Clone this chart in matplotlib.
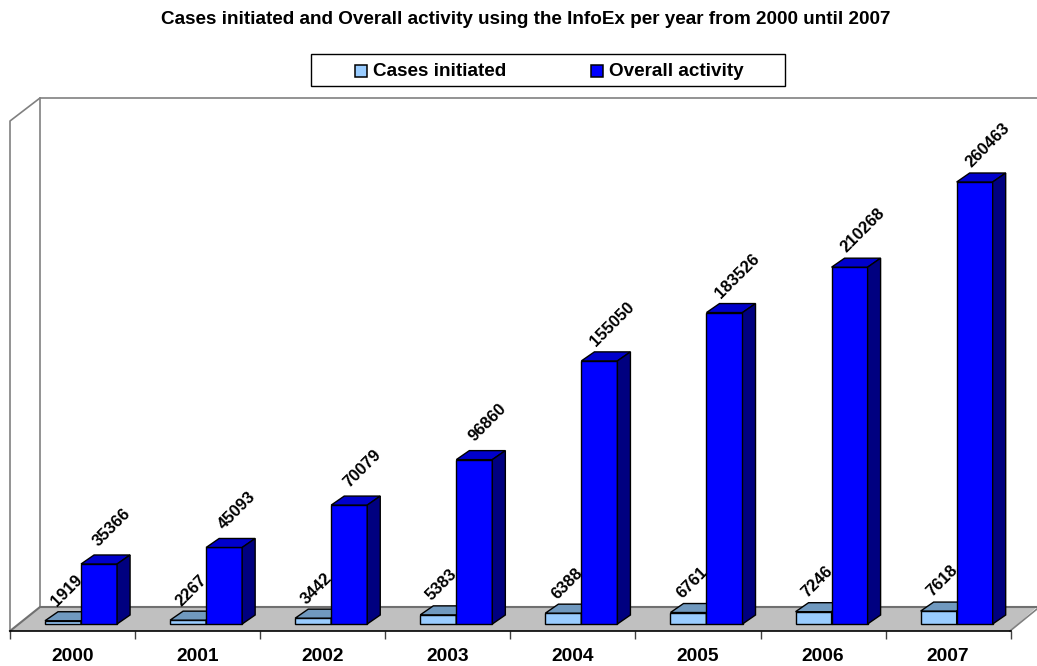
import matplotlib
matplotlib.use("Agg")
import matplotlib.pyplot as plt
from matplotlib.patches import Polygon, Rectangle

plt.rcParams['font.family'] = ['Liberation Sans', 'DejaVu Sans']
plt.rcParams['font.weight'] = 'bold'

years = ['2000', '2001', '2002', '2003', '2004', '2005', '2006', '2007']
cases = [1919, 2267, 3442, 5383, 6388, 6761, 7246, 7618]
activity = [35366, 45093, 70079, 96860, 155050, 183526, 210268, 260463]

W, H = 1037, 666
fig = plt.figure(figsize=(W / 100, H / 100), dpi=100)

#--- background in pixel coords: walls, floor, legend, title ---
bg = fig.add_axes([0, 0, 1, 1])
bg.set_xlim(0, W)
bg.set_ylim(H, 0)
bg.axis('off')

bg.add_patch(Polygon([(10, 631), (40, 607), (1037, 607), (1010, 631)], fc='#C0C0C0', ec='none'))
bg.plot([10, 10, 40, 1037], [631, 121, 98, 98], color='#808080', lw=1.2)
bg.plot([40, 40], [98, 607], color='#808080', lw=1.2)
bg.plot([10, 40, 1037], [631, 607, 607], color='#707070', lw=1.5)
bg.plot([1010, 1037], [631, 609], color='#808080', lw=1.2)

bg.text(526, 19.5, 'Cases initiated and Overall activity using the InfoEx per year from 2000 until 2007',
        ha='center', va='center', fontsize=13.6, color='black')

bg.add_patch(Rectangle((310.5, 53.5), 474, 32, fc='white', ec='black', lw=1))
bg.add_patch(Rectangle((355, 65), 12, 12, fc='#99CCFF', ec='black', lw=1.1))
bg.text(373, 71.5, 'Cases initiated', ha='left', va='center', fontsize=13.6)
bg.add_patch(Rectangle((591, 65), 12, 12, fc='#0000FF', ec='black', lw=1.1))
bg.text(609, 71.5, 'Overall activity', ha='left', va='center', fontsize=13.6)

#--- bars on real scales, bottom at the bar base line ---
ax = fig.add_axes([10 / W, (H - 624) / H, 1000.7 / W, 442 / H])
ax.patch.set_alpha(0)
ax.set_xlim(0, 8)
ax.set_ylim(0, 260463)
for s in ['top', 'left', 'right']:
    ax.spines[s].set_visible(False)
ax.spines['bottom'].set_position(('outward', 5.04))
ax.spines['bottom'].set_linewidth(1.2)
ax.yaxis.set_visible(False)
ax.set_xticks(range(9))
ax.set_xticklabels([])
ax.tick_params(axis='x', which='major', length=6, width=1, color='#404040')
ax.set_xticks([i + 0.5 for i in range(8)], years, minor=True)
ax.tick_params(axis='x', which='minor', length=0, labelsize=13.8, pad=12)

dx = 13 / 1000.7 * 8
dy = 9 / 442 * 260463
bw = 0.288


def bar3d(x0, val, front, top, side):
    ax.bar(x0, val, bw, align='edge', color=front, edgecolor='black', lw=1, clip_on=False, zorder=3)
    x1 = x0 + bw
    ax.add_patch(Polygon([(x0, val), (x1, val), (x1 + dx, val + dy), (x0 + dx, val + dy)],
                         fc=top, ec='black', lw=1, clip_on=False, zorder=3))
    ax.add_patch(Polygon([(x1, 0), (x1, val), (x1 + dx, val + dy), (x1 + dx, dy)],
                         fc=side, ec='black', lw=1, clip_on=False, zorder=3))


for i, yr in enumerate(years):
    left = i + 0.28
    bar3d(left, cases[i], '#99CCFF', '#7099BF', '#4D6680')
    bar3d(left + bw, activity[i], '#0000FF', '#0000CC', '#000080')
    ax.annotate(str(cases[i]), (left + bw / 2, cases[i]), xytext=(2.5, 21.5), textcoords='offset points',
                rotation=45, ha='center', va='center', fontsize=12, zorder=5, annotation_clip=False)
    ax.annotate(str(activity[i]), (left + 1.5 * bw, activity[i]), xytext=(9.5, 26.5), textcoords='offset points',
                rotation=45, ha='center', va='center', fontsize=12, zorder=5, annotation_clip=False)

fig.savefig('out.png', dpi=100)
